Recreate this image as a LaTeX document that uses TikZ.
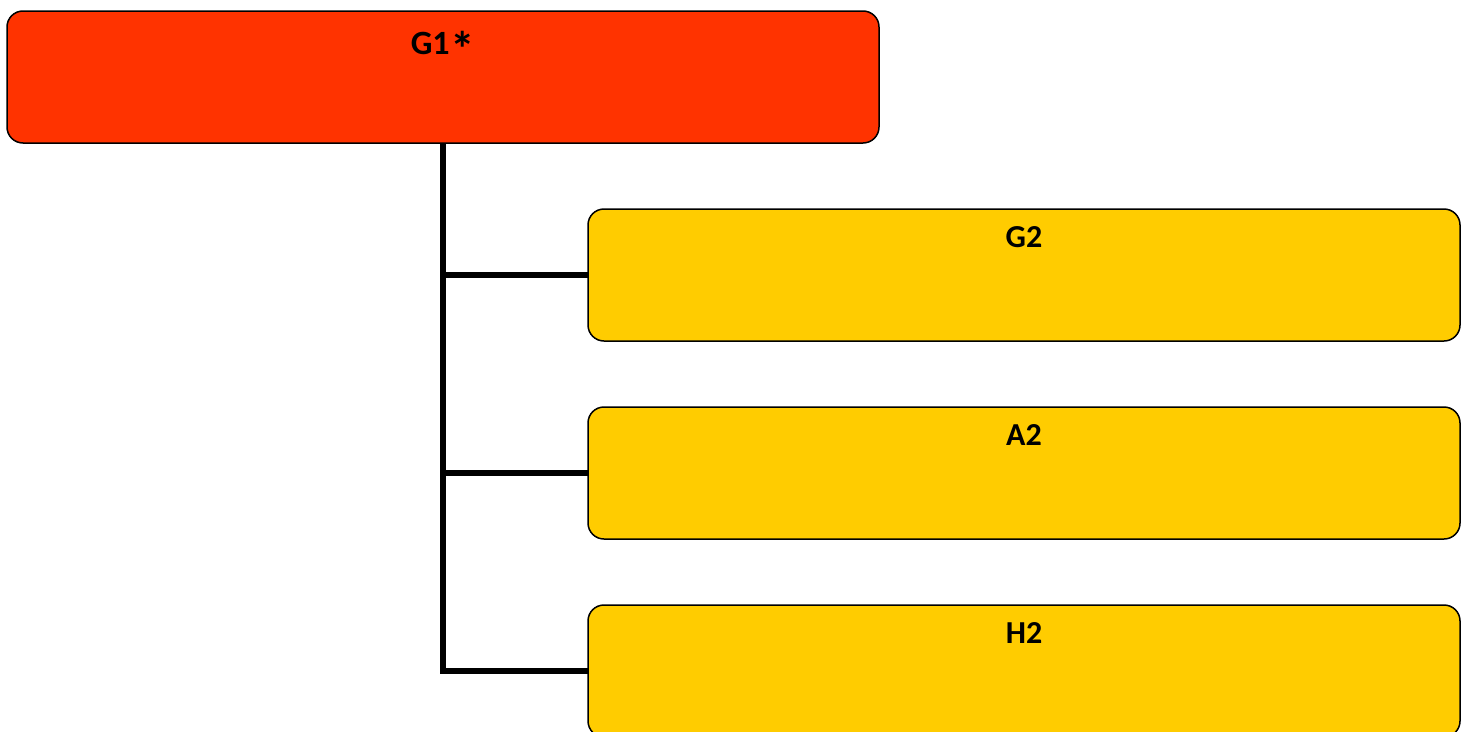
\documentclass[tikz,border=0pt]{standalone}
\usepackage{fontspec}
\setmainfont{Carlito}
\definecolor{topred}{HTML}{FF3300}
\definecolor{subyel}{HTML}{FFCC00}
\begin{document}
\begin{tikzpicture}[x=1pt,y=-1pt,
  box/.style={draw=black,line width=1.5pt,rounded corners=16pt,minimum width=872pt,minimum height=132pt,inner sep=0pt,outer sep=0pt},
  lbl/.style={anchor=base,font=\bfseries\fontsize{32}{36}\selectfont,inner sep=0pt},
  conn/.style={draw=black,line width=6pt}]
\useasboundingbox (0,0) rectangle (1471,731);
\clip (0,0) rectangle (1471,731);
\fill[white] (0,0) rectangle (1471,731);
\node[box,fill=topred] (g1) at (443,77) {};
\node[box,fill=subyel] (g2) at (1024,275) {};
\node[box,fill=subyel] (a2) at (1024,473) {};
\node[box,fill=subyel] (h2) at (1024,671) {};
\draw[conn] (g1.south) -- (g1.south |- h2.west) -- (h2.west);
\draw[conn] (g1.south |- g2.west) -- (g2.west);
\draw[conn] (g1.south |- a2.west) -- (a2.west);
\node[lbl,font=\bfseries\fontsize{34}{38}\selectfont] (g1t) at (443,54) {G1\hspace{1pt}\raisebox{-12pt}{\scalebox{1.45}{*}}};
\node[lbl] (g2t) at (1024,247) {G2};
\node[lbl] (a2t) at (1024,445) {A2};
\node[lbl] (h2t) at (1024,643) {H2};
\end{tikzpicture}
\end{document}
